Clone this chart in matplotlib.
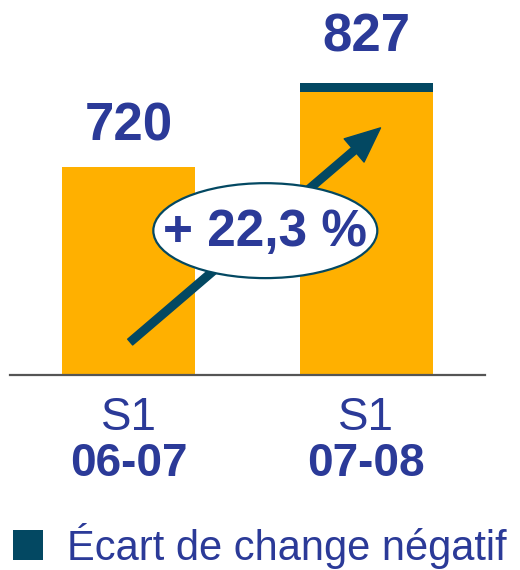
#! /usr/bin/env python3

import matplotlib
matplotlib.use("Agg")
import matplotlib.pyplot as plt
from matplotlib.patches import Ellipse, Rectangle

# data
periods = ["S1", "S1"]
years = ["06-07", "07-08"]
totals = [720, 827]
fx_effect = [0, 11]          # écart de change négatif (dark cap)
growth_label = "+ 22,3 %"
legend_label = "Écart de change négatif"

orange = "#FFB000"
teal = "#034862"
navy = "#2B3A98"

plt.rcParams["font.family"] = ["Liberation Sans", "DejaVu Sans"]

fig = plt.figure(figsize=(5.2, 5.7), dpi=100)
ax = fig.add_axes([10 / 520, 195 / 570, 475 / 520, 375 / 570])

x = list(range(len(totals)))
base = [t - f for t, f in zip(totals, fx_effect)]
ax.bar(x, base, width=0.56, color=orange, bottom=0)
ax.bar(x, fx_effect, width=0.56, bottom=base, color=teal)

ax.set_xlim(-0.5, 1.5)
ax.set_ylim(455, 933)
for s in ["top", "right", "left"]:
    ax.spines[s].set_visible(False)
ax.spines["bottom"].set_color("#555555")
ax.spines["bottom"].set_linewidth(1.6)
ax.set_xticks([])
ax.set_yticks([])

# value labels (second one sits a bit higher above its bar)
pads = [19, 22.5]
for xi, t, pad in zip(x, totals, pads):
    ax.annotate(str(t), (xi, t), xytext=(0, pad), textcoords="offset points",
                ha="center", va="baseline", fontsize=38, fontweight="bold",
                color=navy)

# growth arrow
ax.annotate("", xy=(1.06, 770), xytext=(0.006, 497),
            arrowprops=dict(facecolor=teal, edgecolor=teal, width=5.5,
                            headwidth=22, headlength=25, shrink=0))

ell = Ellipse((0.575, 639), 0.943, 121, facecolor="white", edgecolor=teal,
              linewidth=1.6, zorder=5)
ax.add_patch(ell)
ax.text(0.575, 637, growth_label, ha="center", va="center", fontsize=37,
        fontweight="bold", color=navy, zorder=6)

# category labels
xt = ax.get_xaxis_transform()
for xi, p, yr in zip(x, periods, years):
    ax.annotate(p, (xi, 0), xycoords=xt, xytext=(0, -31.3),
                textcoords="offset points", ha="center", va="center",
                fontsize=33, color=navy, annotation_clip=False)
    ax.annotate(yr, (xi, 0), xycoords=xt, xytext=(0, -64.4),
                textcoords="offset points", ha="center", va="center",
                fontsize=33, fontweight="bold", color=navy,
                annotation_clip=False)

# legend
fig.patches.append(Rectangle((13 / 520, 10 / 570), 30 / 520, 30 / 570,
                             transform=fig.transFigure, facecolor=teal,
                             edgecolor="none"))
fig.text(67 / 520, 10 / 570, legend_label, ha="left", va="baseline",
         fontsize=30, color=navy)

fig.savefig("out.png")
plt.close(fig)
